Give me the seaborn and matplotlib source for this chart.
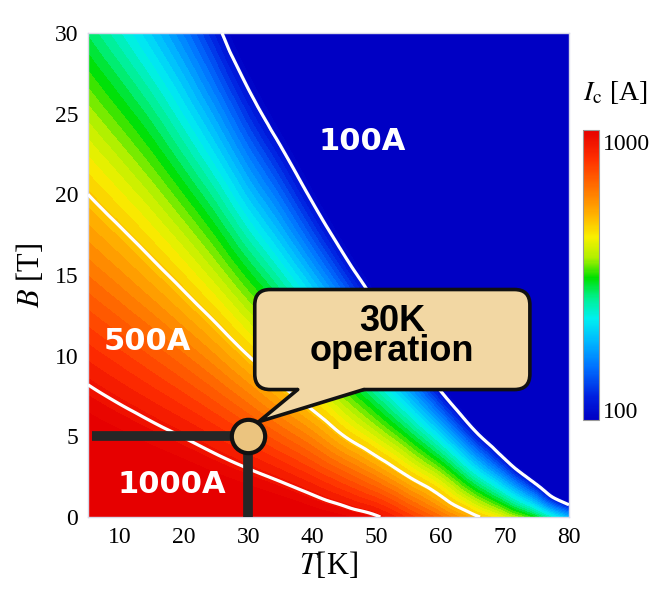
import numpy as np
import matplotlib
matplotlib.use("Agg")
import matplotlib.pyplot as plt
import matplotlib.tri as mtri
import seaborn as sns
from matplotlib.colors import LinearSegmentedColormap, Normalize
from matplotlib.cm import ScalarMappable
from matplotlib.patches import FancyBboxPatch, Polygon

# ---------------- data ----------------
T_values = [5, 10, 15, 20, 25, 30, 35, 40, 45, 50, 55, 60, 65, 70, 75, 80]          # K
B_values = [0, 2.5, 5, 7.5, 10, 12.5, 15, 17.5, 20, 22.5, 25, 27.5, 30]             # T
# critical current Ic [A]; one row per temperature, entries follow B_values
Ic_values = [
    [1620, 1397, 1207, 1042, 900, 777, 671, 580, 500, 432, 373, 322, 278],   # 5 K
    [1555, 1328, 1135, 968, 828, 707, 604, 516, 440, 376, 321, 274, 234],    # 10 K
    [1500, 1263, 1064, 896, 755, 636, 535, 451, 380, 320, 270, 227, 191],    # 15 K
    [1452, 1200, 993, 820, 678, 560, 463, 383, 316, 261, 216, 179, 148],     # 20 K
    [1397, 1127, 910, 735, 593, 479, 386, 312, 252, 203, 164, 132, 107],     # 25 K
    [1346, 1051, 820, 641, 500, 392, 307, 240, 188, 148, 116, 91, 71],       # 30 K
    [1289, 966, 722, 542, 411, 313, 239, 182, 139, 106, 80, 61, 47],         # 35 K
    [1205, 863, 619, 447, 327, 239, 175, 128, 94, 69, 50, 37, 27],           # 40 K
    [1119, 748, 500, 349, 244, 170, 119, 83, 58, 40, 28, 20, 14],            # 45 K
    [1019, 630, 401, 262, 172, 112, 74, 48, 32, 21, 14, 9, 6],               # 50 K
    [840, 500, 300, 180, 108, 65, 39, 24, 14, 8.5, 5, 3, 1.8],               # 55 K
    [680, 380, 203, 108, 58, 31, 16, 8.8, 4.7, 2.5, 1.3, 0.7, 0.4],          # 60 K
    [531, 248, 116, 54, 25, 12, 5.6, 2.6, 1.2, 0.6, 0.3, 0.12, 0.06],        # 65 K
    [407, 153, 58, 22, 8.1, 3.1, 1.15, 0.43, 0.16, 0.06, 0.022, 0.01, 0.01],  # 70 K
    [288, 77, 20, 5.4, 1.45, 0.38, 0.1, 0.027, 0.01, 0.01, 0.01, 0.01, 0.01],  # 75 K
    [174, 29, 4.9, 0.82, 0.14, 0.023, 0.01, 0.01, 0.01, 0.01, 0.01, 0.01, 0.01],  # 80 K
]
line_levels = [100, 500, 1000]          # white iso-current lines
cbar_range = (92, 1108)                 # colour scale limits [A]
cbar_ticks = [100, 1000]
x_ticks = [10, 20, 30, 40, 50, 60, 70, 80]
y_ticks = [0, 5, 10, 15, 20, 25, 30]
region_labels = ["100A", "500A", "1000A"]
region_pos = [(47.7, 23.3), (14.2, 10.9), (18.1, 2.0)]
op_point = (30, 5)
bubble_text = "30K\noperation"

# ---------------- style ----------------
sns.set_theme(style="ticks")
plt.rcParams["font.family"] = ["Liberation Serif", "DejaVu Serif"]
plt.rcParams["mathtext.fontset"] = "stix"
plt.rcParams["text.color"] = "black"
plt.rcParams["axes.labelcolor"] = "black"

cmap = LinearSegmentedColormap.from_list("ic", [
    (0.00, "#0000c4"), (0.08, "#0020e0"), (0.18, "#0070ff"), (0.27, "#00b8ff"),
    (0.35, "#00f0f0"), (0.42, "#00f090"), (0.49, "#00e000"), (0.56, "#b0f000"),
    (0.63, "#f8f000"), (0.70, "#ffb800"), (0.78, "#ff8000"), (0.90, "#ff3000"),
    (1.00, "#e60000")])
cmap.set_under("#0000c4")
cmap.set_over("#e60000")

fig = plt.figure(figsize=(6.64, 6.03), dpi=100)
ax = fig.add_axes([88 / 664, 1 - 517 / 603, 481 / 664, 484 / 603])

# field on log scale; regular triangulation of the grid, smoothed by matplotlib's refiner
Z = np.log10(np.array(Ic_values, dtype=float).T)
TT, BB = np.meshgrid(T_values, B_values)
nB, nT = Z.shape
tris = []
for i in range(nB - 1):
    for j in range(nT - 1):
        k = i * nT + j
        tris.append([k, k + 1, k + nT + 1])
        tris.append([k, k + nT + 1, k + nT])
tri = mtri.Triangulation(TT.ravel(), BB.ravel(), triangles=np.array(tris))
interp = mtri.CubicTriInterpolator(tri, Z.ravel(), kind="geom")
tri_f, z_f = mtri.UniformTriRefiner(tri).refine_field(Z.ravel(), triinterpolator=interp, subdiv=3)

vmin, vmax = np.log10(cbar_range[0]), np.log10(cbar_range[1])
levels = np.linspace(vmin, vmax, 41)
cs = ax.tricontourf(tri_f, z_f, levels=levels, cmap=cmap, extend="both")
cs.set_edgecolor("face")
cs.set_linewidth(0.3)
ax.tricontour(tri_f, z_f, levels=np.log10(line_levels), colors="white",
              linewidths=2.3, zorder=3)

ax.set_xlim(5, 80)
ax.set_ylim(0, 30)
ax.set_xticks(x_ticks)
ax.set_yticks(y_ticks)
ax.tick_params(direction="in", length=4, width=1, color="white", labelcolor="black",
               top=True, right=True, labelsize=17, pad=7)
for s in ax.spines.values():
    s.set_color("#d8d8e8")
    s.set_linewidth(1)
ax.set_xlabel(r"$T$[K]", fontsize=22, labelpad=2)
ax.set_ylabel(r"$B$ [T]", fontsize=22, labelpad=6)

# region labels
for txt, (tx, ty) in zip(region_labels, region_pos):
    ax.text(tx, ty, txt, color="white", fontsize=22, fontweight="bold",
            family=["DejaVu Sans"], ha="center", va="center", zorder=5)

# operating point guides
ax.plot([5.7, op_point[0]], [op_point[1], op_point[1]], color="#262626", lw=7,
        solid_capstyle="butt", zorder=4)
ax.plot([op_point[0], op_point[0]], [0, op_point[1]], color="#262626", lw=7,
        solid_capstyle="butt", zorder=4)

# speech bubble
bubble_fc = "#f2d7a3"
bubble = FancyBboxPatch((31.0, 7.9), 42.9, 6.2, boxstyle="round,pad=0,rounding_size=2.4",
                        mutation_aspect=0.4, fc=bubble_fc, ec="#111111", lw=2.6, zorder=6)
ax.add_patch(bubble)
ax.add_patch(Polygon([(37.7, 7.9), (31.6, 5.9), (48.0, 7.9), (48.0, 8.5), (37.7, 8.5)],
                     closed=True, fc=bubble_fc, ec="none", zorder=7))
ax.plot([37.7, 31.6, 48.0], [7.9, 5.9, 7.9], color="#111111", lw=2.6, zorder=8,
        solid_joinstyle="miter")
ax.plot(*op_point, "o", ms=24, mfc="#ebc47f", mec="#111111", mew=3, zorder=9)
ax.text(52.4, 11.2, bubble_text, fontsize=26, fontweight="bold", color="black",
        family=["Liberation Sans", "DejaVu Sans"], ha="center", va="center",
        multialignment="center", linespacing=0.82, zorder=10)

# colour bar
cax = fig.add_axes([583 / 664, 1 - 420 / 603, 16 / 664, 290 / 603])
sm = ScalarMappable(norm=Normalize(vmin, vmax), cmap=cmap)
cb = fig.colorbar(sm, cax=cax, ticks=np.log10(cbar_ticks))
cb.set_ticklabels([str(v) for v in cbar_ticks])
cb.ax.tick_params(length=0, labelsize=17, pad=3, labelcolor="black")
cb.outline.set_edgecolor("#999999")
cb.outline.set_linewidth(0.8)
fig.text(583 / 664, 1 - 92 / 603, r"$I_{\mathrm{c}}$ [A]", fontsize=20, ha="left", va="center")

fig.savefig("out.png", dpi=100, facecolor="white")
